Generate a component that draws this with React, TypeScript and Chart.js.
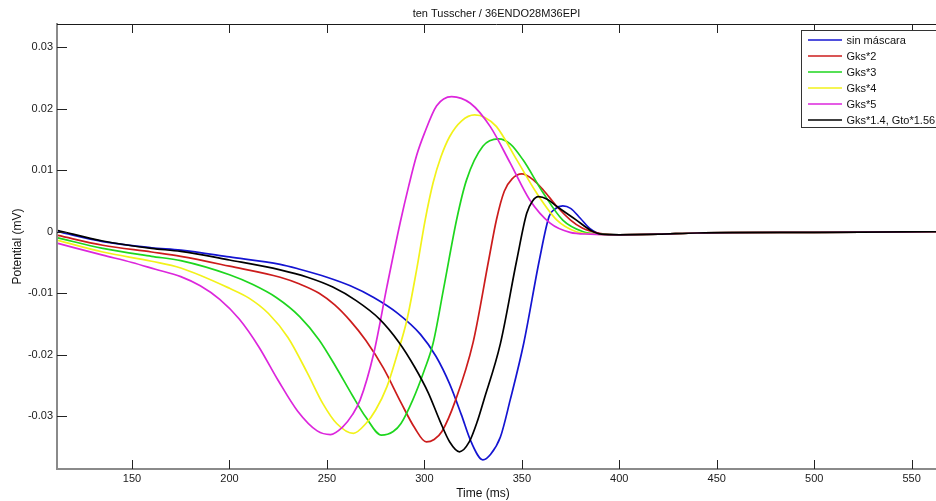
import React, { useEffect, useRef } from 'react';
import { Chart, registerables } from 'chart.js';

Chart.register(...registerables);

const chartTitle = 'ten Tusscher / 36ENDO28M36EPI';
const xTitle = 'Time (ms)';
const yTitle = 'Potential (mV)';

const seriesLabels = ['sin máscara', 'Gks*2', 'Gks*3', 'Gks*4', 'Gks*5', 'Gks*1.4, Gto*1.56'];
const seriesColors = ['#1414d2', '#cc1c1c', '#1ed61e', '#f2f21a', '#dc26dc', '#000000'];

const xTicks = [150, 200, 250, 300, 350, 400, 450, 500, 550];
const yTicks = [-0.03, -0.02, -0.01, 0, 0.01, 0.02, 0.03];
const xRange = [111.5, 562.5];
const yRange = [-0.0386, 0.0338];

// sin máscara
const tBlue = [112, 135, 160, 175, 200, 226, 236, 250, 262, 274, 286, 298, 306, 313, 319, 324, 330, 334, 339, 344, 351, 359, 364, 367, 371, 375, 380, 385, 391, 400, 420, 440, 500, 565];
const vBlue = [0, -0.0016, -0.0026, -0.003, -0.0041, -0.0053, -0.0061, -0.0074, -0.0088, -0.0107, -0.0132, -0.0167, -0.0203, -0.0248, -0.0298, -0.0342, -0.0371, -0.0362, -0.0334, -0.0274, -0.0181, -0.0046, 0.0025, 0.0037, 0.0042, 0.0038, 0.0022, 0.0005, -0.0004, -0.0005, -0.0004, -0.0002, -0.0001, 0];

// Gks*2
const tRed = [112, 135, 160, 175, 200, 226, 236, 246, 254, 262, 270, 279, 288, 295, 301, 305, 309, 316, 325, 333, 337, 341, 345, 350, 356, 361, 368, 375, 381, 389, 400, 420, 440, 500, 565];
const vRed = [-0.0006, -0.0022, -0.0033, -0.004, -0.0056, -0.0074, -0.0085, -0.01, -0.0119, -0.0145, -0.0177, -0.0222, -0.0278, -0.0319, -0.0342, -0.0338, -0.0325, -0.0274, -0.018, -0.0046, 0.002, 0.0066, 0.0086, 0.0094, 0.0084, 0.0068, 0.0041, 0.0019, 0.0006, -0.0002, -0.0005, -0.0004, -0.0002, -0.0001, 0];

// Gks*3
const tGreen = [112, 135, 160, 175, 200, 212, 224, 236, 246, 255, 263, 270, 278, 284, 288, 294, 300, 304.5, 310, 316.7, 321.6, 330, 338, 344, 350.6, 361, 371, 381.5, 390, 400, 420, 440, 500, 565];
const vGreen = [-0.001, -0.0027, -0.004, -0.0047, -0.007, -0.0086, -0.0107, -0.0138, -0.0176, -0.0222, -0.0266, -0.0302, -0.0331, -0.0325, -0.0312, -0.0274, -0.0225, -0.0181, -0.009, 0.0022, 0.0084, 0.0139, 0.0151, 0.0143, 0.0117, 0.0063, 0.0019, 0, -0.0004, -0.0005, -0.0004, -0.0002, -0.0001, 0];

// Gks*4
const tYellow = [112, 135, 160, 175, 200, 210, 220, 230, 240, 248, 255, 263.6, 270, 275, 280.8, 286, 291, 296, 300.4, 304.5, 308.5, 313, 319, 325.8, 331, 337, 347.4, 357.6, 368, 378, 388, 400, 420, 440, 500, 565];
const vYellow = [-0.0014, -0.0033, -0.0048, -0.0059, -0.0092, -0.0108, -0.0133, -0.0172, -0.023, -0.028, -0.0312, -0.0328, -0.0312, -0.029, -0.0252, -0.02, -0.0144, -0.0062, 0.0019, 0.008, 0.0122, 0.0155, 0.018, 0.019, 0.0186, 0.0171, 0.0117, 0.0063, 0.0019, 0, -0.0004, -0.0005, -0.0004, -0.0002, -0.0001, 0];

// Gks*5
const tMagenta = [112, 135, 150, 162, 175, 185, 195, 205, 215, 225, 235, 245, 251.8, 258, 263, 267, 274, 280.8, 287.6, 292, 296, 300, 306.3, 314, 323.6, 333.8, 344, 354, 364.5, 374.7, 385, 400, 420, 440, 500, 565];
const vMagenta = [-0.0019, -0.0038, -0.005, -0.0061, -0.0073, -0.0088, -0.011, -0.0142, -0.0187, -0.0242, -0.0292, -0.0324, -0.033, -0.0318, -0.0298, -0.0274, -0.0198, -0.0089, 0.0015, 0.0075, 0.0124, 0.016, 0.0205, 0.022, 0.0209, 0.0171, 0.0112, 0.0052, 0.0014, -0.0001, -0.0004, -0.0005, -0.0004, -0.0002, -0.0001, 0];

// Gks*1.4, Gto*1.56
const tBlack = [112, 135, 160, 175, 200, 226, 240, 253, 265, 277, 287, 295, 302, 308, 313, 318, 323, 327, 330.5, 339, 347.4, 352.5, 355.5, 358.5, 363, 368, 378, 385, 391, 400, 420, 440, 500, 565];
const vBlack = [0.0002, -0.0015, -0.0027, -0.0032, -0.0046, -0.0062, -0.0074, -0.009, -0.0112, -0.0142, -0.018, -0.022, -0.0262, -0.0308, -0.0342, -0.0358, -0.0342, -0.031, -0.0274, -0.0182, -0.0046, 0.003, 0.005, 0.0057, 0.0053, 0.0041, 0.0019, 0.0003, -0.0004, -0.0005, -0.0004, -0.0002, -0.0001, 0];

const seriesT = [tBlue, tRed, tGreen, tYellow, tMagenta, tBlack];
const seriesV = [vBlue, vRed, vGreen, vYellow, vMagenta, vBlack];

const FONT = '"Liberation Sans", Arial, Helvetica, sans-serif';
const LINE_W = 1.7;

const overlayPlugin = {
  id: 'matlabOverlay',
  afterDraw(chart: any) {
    const ctx: CanvasRenderingContext2D = chart.ctx;
    const { left, right, top, bottom } = chart.chartArea;
    const xs = chart.scales.x;
    const ys = chart.scales.y;
    ctx.save();

    // top axis line
    ctx.strokeStyle = '#1a1a1a';
    ctx.lineWidth = 1;
    ctx.beginPath();
    ctx.moveTo(left, top + 0.5);
    ctx.lineTo(right, top + 0.5);
    ctx.stroke();

    // inner tick marks
    ctx.strokeStyle = '#222';
    ctx.lineWidth = 1;
    ctx.beginPath();
    xTicks.forEach((v) => {
      const px = Math.round(xs.getPixelForValue(v)) + 0.5;
      ctx.moveTo(px, bottom);
      ctx.lineTo(px, bottom - 9);
      ctx.moveTo(px, top);
      ctx.lineTo(px, top + 9);
    });
    yTicks.forEach((v) => {
      const py = Math.round(ys.getPixelForValue(v)) + 0.5;
      ctx.moveTo(left, py);
      ctx.lineTo(left + 10, py);
    });
    ctx.stroke();

    ctx.fillStyle = '#111';
    // title
    ctx.font = `11px ${FONT}`;
    ctx.textAlign = 'center';
    ctx.textBaseline = 'alphabetic';
    ctx.fillText(chartTitle, (left + right) / 2, 17);

    // x axis title
    ctx.font = `12px ${FONT}`;
    ctx.fillText(xTitle, 483, 497);

    // y axis title
    ctx.save();
    ctx.translate(21, (top + bottom) / 2);
    ctx.rotate(-Math.PI / 2);
    ctx.fillText(yTitle, 0, 0);
    ctx.restore();

    // legend
    const lx = 801.5;
    const ly = 30.5;
    const lh = 97;
    ctx.fillStyle = '#ffffff';
    ctx.fillRect(lx, ly, 160, lh);
    ctx.strokeStyle = '#333';
    ctx.lineWidth = 1;
    ctx.strokeRect(lx, ly, 160, lh);
    ctx.font = `11px ${FONT}`;
    ctx.textAlign = 'left';
    ctx.textBaseline = 'middle';
    chart.data.datasets.forEach((ds: any, i: number) => {
      const y = 40 + 16 * i;
      ctx.strokeStyle = ds.borderColor;
      ctx.lineWidth = LINE_W;
      ctx.beginPath();
      ctx.moveTo(808, y);
      ctx.lineTo(842, y);
      ctx.stroke();
      ctx.fillStyle = '#111';
      ctx.fillText(ds.label, 846.5, y + 1);
    });
    ctx.restore();
  },
};

export default function App() {
  const canvasRef = useRef<HTMLCanvasElement | null>(null);

  useEffect(() => {
    const canvas = canvasRef.current;
    if (!canvas) return;
    const datasets = seriesLabels.map((label, i) => ({
      label,
      data: seriesT[i].map((t, j) => ({ x: t, y: seriesV[i][j] })),
      borderColor: seriesColors[i],
      backgroundColor: seriesColors[i],
      borderWidth: LINE_W,
      pointRadius: 0,
      fill: false,
      cubicInterpolationMode: 'monotone' as const,
      order: seriesLabels.length - i,
    }));

    const chart = new Chart(canvas, {
      type: 'line',
      data: { datasets },
      options: {
        responsive: false,
        animation: false,
        devicePixelRatio: 1,
        layout: { padding: { top: 24, left: 0, right: 0, bottom: 0 } },
        plugins: {
          legend: { display: false },
          title: { display: false },
          tooltip: { enabled: false },
        },
        scales: {
          x: {
            type: 'linear',
            min: xRange[0],
            max: xRange[1],
            afterBuildTicks: (scale: any) => {
              scale.ticks = xTicks.map((v) => ({ value: v }));
            },
            afterFit: (scale: any) => {
              scale.height = 32;
            },
            ticks: {
              autoSkip: false,
              maxRotation: 0,
              padding: 3,
              color: '#1a1a1a',
              font: { size: 11, family: FONT },
              callback: (v: any) => String(v),
            },
            grid: { display: false, drawTicks: false },
            border: { display: true, color: '#8a8a8a', width: 2 },
          },
          y: {
            type: 'linear',
            min: yRange[0],
            max: yRange[1],
            afterBuildTicks: (scale: any) => {
              scale.ticks = yTicks.map((v) => ({ value: v }));
            },
            afterFit: (scale: any) => {
              scale.width = 57;
            },
            ticks: {
              padding: 4,
              color: '#1a1a1a',
              font: { size: 11, family: FONT },
              callback: (v: any) => (Math.abs(v) < 1e-9 ? '0' : Number(v).toFixed(2)),
            },
            grid: { display: false, drawTicks: false },
            border: { display: true, color: '#8a8a8a', width: 2 },
          },
        },
      },
      plugins: [overlayPlugin],
    });
    return () => chart.destroy();
  }, []);

  return (
    <div style={{ position: 'absolute', left: 0, top: 0, width: 936, height: 501, background: '#fff', overflow: 'hidden' }}>
      <canvas ref={canvasRef} width={936} height={501} style={{ display: 'block' }} />
    </div>
  );
}
